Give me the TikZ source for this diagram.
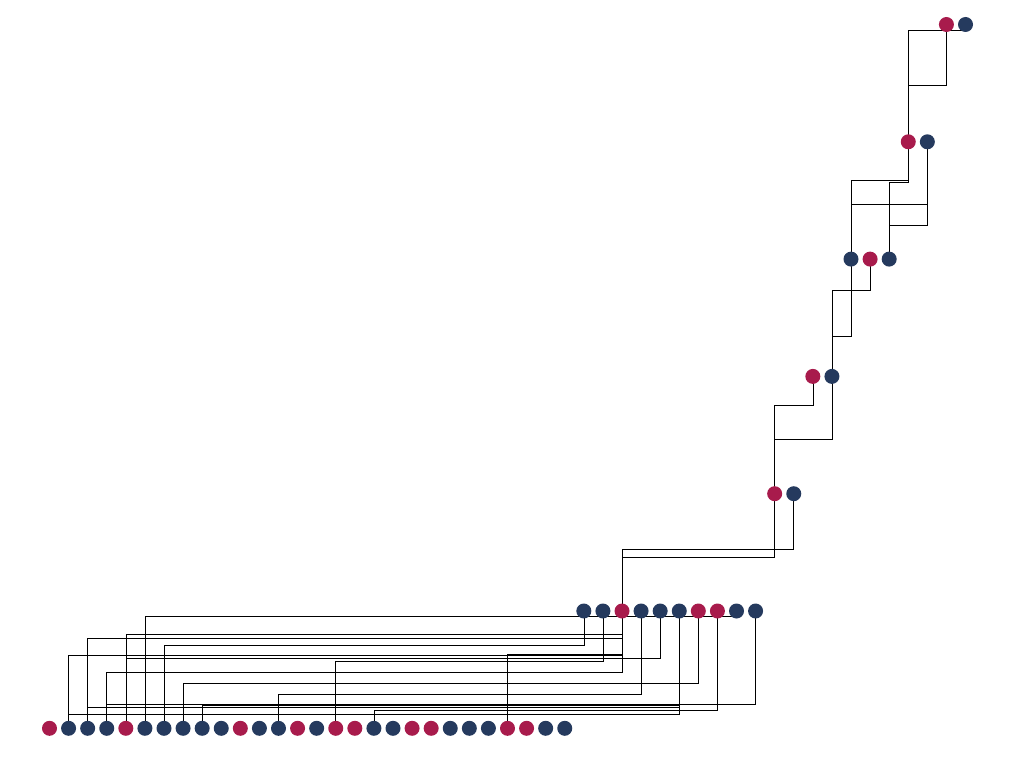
\documentclass[tikz,border=0pt]{standalone}
\usetikzlibrary{backgrounds}
\definecolor{crimdot}{RGB}{168,27,76}
\definecolor{navydot}{RGB}{37,58,94}
\tikzset{every picture/.style={line width=0.75pt}}
\tikzset{
  fdot/.style={circle,fill=crimdot,inner sep=0pt,minimum size=11.25pt},
  mdot/.style={circle,fill=navydot,inner sep=0pt,minimum size=11.25pt}
}
\begin{document}
\begin{tikzpicture}[x=0.75pt,y=0.75pt,yscale=-1,xscale=1]
%canvas 1034 x 784
\path (0,0) rectangle (1034,784);

%Row 0
\node[fdot] (r0n0) at (946.42,24.5) {};
\node[mdot] (r0n1) at (965.5,24.5) {};
%Row 1
\node[fdot] (r1n0) at (908.25,141.8) {};
\node[mdot] (r1n1) at (927.33,141.8) {};
%Row 2
\node[mdot] (r2n0) at (851,259.1) {};
\node[fdot] (r2n1) at (870.08,259.1) {};
\node[mdot] (r2n2) at (889.17,259.1) {};
%Row 3
\node[fdot] (r3n0) at (812.83,376.4) {};
\node[mdot] (r3n1) at (831.92,376.4) {};
%Row 4
\node[fdot] (r4n0) at (774.67,493.7) {};
\node[mdot] (r4n1) at (793.75,493.7) {};
%Row 5
\node[mdot] (r5n0) at (583.83,611) {};
\node[mdot] (r5n1) at (602.92,611) {};
\node[fdot] (r5n2) at (622,611) {};
\node[mdot] (r5n3) at (641.08,611) {};
\node[mdot] (r5n4) at (660.17,611) {};
\node[mdot] (r5n5) at (679.25,611) {};
\node[fdot] (r5n6) at (698.33,611) {};
\node[fdot] (r5n7) at (717.42,611) {};
\node[mdot] (r5n8) at (736.5,611) {};
\node[mdot] (r5n9) at (755.58,611) {};
%Row 6
\node[fdot] (r6n0) at (49.5,728.3) {};
\node[mdot] (r6n1) at (68.58,728.3) {};
\node[mdot] (r6n2) at (87.67,728.3) {};
\node[mdot] (r6n3) at (106.75,728.3) {};
\node[fdot] (r6n4) at (125.83,728.3) {};
\node[mdot] (r6n5) at (144.92,728.3) {};
\node[mdot] (r6n6) at (164,728.3) {};
\node[mdot] (r6n7) at (183.08,728.3) {};
\node[mdot] (r6n8) at (202.17,728.3) {};
\node[mdot] (r6n9) at (221.25,728.3) {};
\node[fdot] (r6n10) at (240.33,728.3) {};
\node[mdot] (r6n11) at (259.42,728.3) {};
\node[mdot] (r6n12) at (278.5,728.3) {};
\node[fdot] (r6n13) at (297.58,728.3) {};
\node[mdot] (r6n14) at (316.67,728.3) {};
\node[fdot] (r6n15) at (335.75,728.3) {};
\node[fdot] (r6n16) at (354.83,728.3) {};
\node[mdot] (r6n17) at (373.92,728.3) {};
\node[mdot] (r6n18) at (393,728.3) {};
\node[fdot] (r6n19) at (412.08,728.3) {};
\node[fdot] (r6n20) at (431.17,728.3) {};
\node[mdot] (r6n21) at (450.25,728.3) {};
\node[mdot] (r6n22) at (469.33,728.3) {};
\node[mdot] (r6n23) at (488.42,728.3) {};
\node[fdot] (r6n24) at (507.5,728.3) {};
\node[fdot] (r6n25) at (526.58,728.3) {};
\node[mdot] (r6n26) at (545.67,728.3) {};
\node[mdot] (r6n27) at (564.75,728.3) {};

\begin{scope}[on background layer]
%Links row 1 to row 0
\draw (r1n0.center) |- (r0n0 |- 0,85.7) -- (r0n0.center);
\draw (r1n0.center) |- (r0n1 |- 0,30) -- (r0n1.center);
%Links row 2 to row 1
\draw (r2n0.center) |- (r1n0 |- 0,180.7) -- (r1n0.center);
\draw (r2n2.center) |- (r1n0 |- 0,182.7) -- (r1n0.center);
\draw (r2n0.center) |- (r1n1 |- 0,204) -- (r1n1.center);
\draw (r2n2.center) |- (r1n1 |- 0,225.7) -- (r1n1.center);
%Links row 3 to row 2
\draw (r3n1.center) |- (r2n0 |- 0,336) -- (r2n0.center);
\draw (r3n1.center) |- (r2n1 |- 0,290) -- (r2n1.center);
%Links row 4 to row 3
\draw (r4n0.center) |- (r3n0 |- 0,405) -- (r3n0.center);
\draw (r4n0.center) |- (r3n1 |- 0,439) -- (r3n1.center);
%Links row 5 to row 4
\draw (r5n2.center) |- (r4n0 |- 0,557.3) -- (r4n0.center);
\draw (r5n2.center) |- (r4n1 |- 0,549.3) -- (r4n1.center);
%Links row 6 to row 5
\draw (r6n1.center) |- (r5n2 |- 0,655.7) -- (r5n2.center);
\draw (r6n1.center) |- (r5n5 |- 0,714) -- (r5n5.center);
\draw (r6n2.center) |- (r5n2 |- 0,638.7) -- (r5n2.center);
\draw (r6n2.center) |- (r5n5 |- 0,707.3) -- (r5n5.center);
\draw (r6n3.center) |- (r5n2 |- 0,672) -- (r5n2.center);
\draw (r6n3.center) |- (r5n9 |- 0,704.3) -- (r5n9.center);
\draw (r6n4.center) |- (r5n2 |- 0,634) -- (r5n2.center);
\draw (r6n4.center) |- (r5n4 |- 0,658) -- (r5n4.center);
\draw (r6n5.center) |- (r5n8 |- 0,616.3) -- (r5n8.center);
\draw (r6n6.center) |- (r5n0 |- 0,645.7) -- (r5n0.center);
\draw (r6n7.center) |- (r5n6 |- 0,683.7) -- (r5n6.center);
\draw (r6n8.center) |- (r5n5 |- 0,705.7) -- (r5n5.center);
\draw (r6n12.center) |- (r5n3 |- 0,694) -- (r5n3.center);
\draw (r6n15.center) |- (r5n1 |- 0,661.5) -- (r5n1.center);
\draw (r6n17.center) |- (r5n7 |- 0,710) -- (r5n7.center);
\draw (r6n24.center) |- (r5n2 |- 0,654.5) -- (r5n2.center);
\end{scope}

\end{tikzpicture}
\end{document}
